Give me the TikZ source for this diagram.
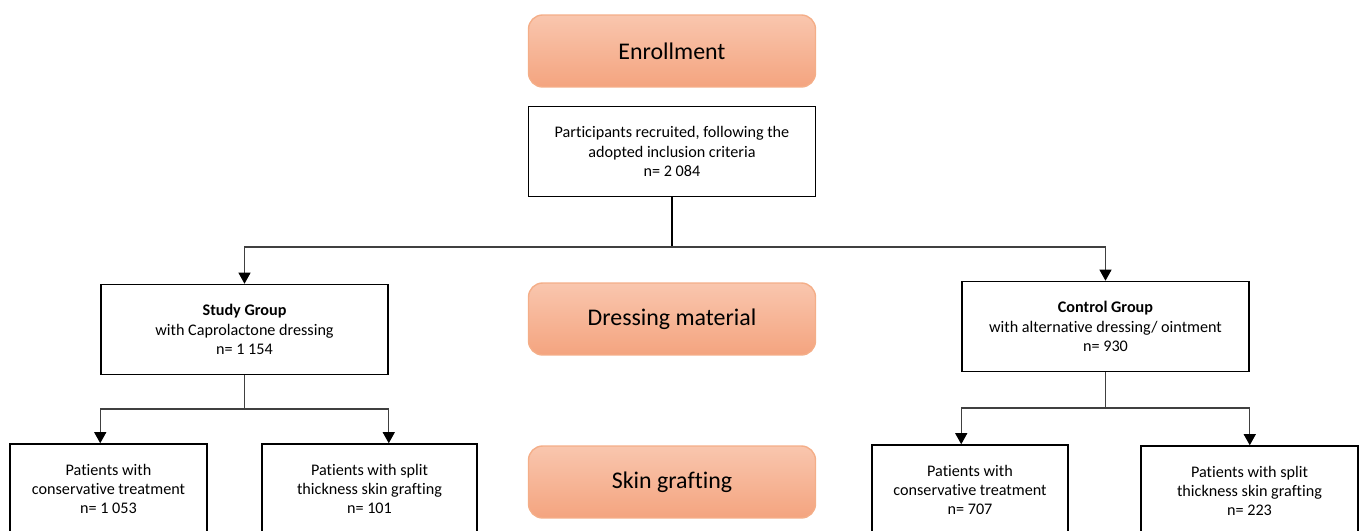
\documentclass[tikz,border=0pt]{standalone}
\usepackage{fontspec}
\setmainfont{Carlito}[Ligatures=NoCommon]
\usetikzlibrary{arrows.meta, positioning, calc}
\definecolor{PeachTop}{HTML}{F9C6AE}
\definecolor{PeachBottom}{HTML}{F4A47F}
\definecolor{PeachLine}{HTML}{F4AE88}
\definecolor{LineGray}{HTML}{404040}

\begin{document}
\begin{tikzpicture}[
    x=0.02cm, y=-0.02cm,
    stage/.style={rectangle, rounded corners=8pt, minimum width=5.74cm,
                  minimum height=1.44cm, top color=PeachTop, bottom color=PeachBottom,
                  draw=PeachLine, line width=0.8pt, font=\fontsize{13.6}{16}\selectfont},
    info/.style={rectangle, draw=black, line width=0.9pt, fill=white, align=center,
                 minimum height=1.8cm, font=\fontsize{9.2}{11}\selectfont},
    arr/.style={-{Triangle[width=0.24cm,length=0.22cm,color=black]}, LineGray, line width=0.6pt}
]
    \useasboundingbox (0,0) rectangle (1360,531);
    \clip (0,0) rectangle (1360,531);

    % Stages down the middle
    \node[stage] (enroll) at (672,51) {Enrollment};
    \node[info, minimum width=5.74cm, below=0.36cm of enroll] (recruit) {
        Participants recruited, following the\\
        adopted inclusion criteria\\
        n= 2 084
    };
    \node[stage] (dress) at (672,319) {Dressing material};
    \node[stage] (graft) at (672,482) {Skin grafting};

    % Groups
    \node[info, minimum width=5.74cm] (study) at (244.5,329.5) {
        \textbf{Study Group}\\
        with Caprolactone dressing\\
        n= 1 154
    };
    \node[info, minimum width=5.74cm] (control) at (1105.5,326.5) {
        \textbf{Control Group}\\
        with alternative dressing/ ointment\\
        n= 930
    };

    % Subgroups
    \node[info, minimum width=3.94cm] (scons) at (108.5,489) {
        Patients with\\
        conservative treatment\\
        n= 1 053
    };
    \node[info, minimum width=4.3cm] (sgraft) at (369.5,489) {
        Patients with split\\
        thickness skin grafting\\
        n= 101
    };
    \node[info, minimum width=3.92cm] (ccons) at (970,490) {
        Patients with\\
        conservative treatment\\
        n= 707
    };
    \node[info, minimum width=4.34cm] (cgraft) at (1249.5,491) {
        Patients with split\\
        thickness skin grafting\\
        n= 223
    };

    % Connectors
    \coordinate (fork) at (recruit.south |- 0,247);
    \draw[line width=1.5pt] (recruit.south) -- (fork);
    \draw[arr] (fork) -| (study.north);
    \draw[arr] (fork) -| (control.north);

    \coordinate (sfork) at (study.south |- 0,409);
    \draw[LineGray, line width=0.6pt] (study.south) -- (sfork);
    \draw[arr] (sfork) -| (study.west |- scons.north);
    \draw[arr] (sfork) -| (study.east |- sgraft.north);

    \coordinate (cfork) at (control.south |- 0,408);
    \draw[LineGray, line width=0.6pt] (control.south) -- (cfork);
    \draw[arr] (cfork) -| (control.west |- ccons.north);
    \draw[arr] (cfork) -| (control.east |- cgraft.north);
\end{tikzpicture}
\end{document}
